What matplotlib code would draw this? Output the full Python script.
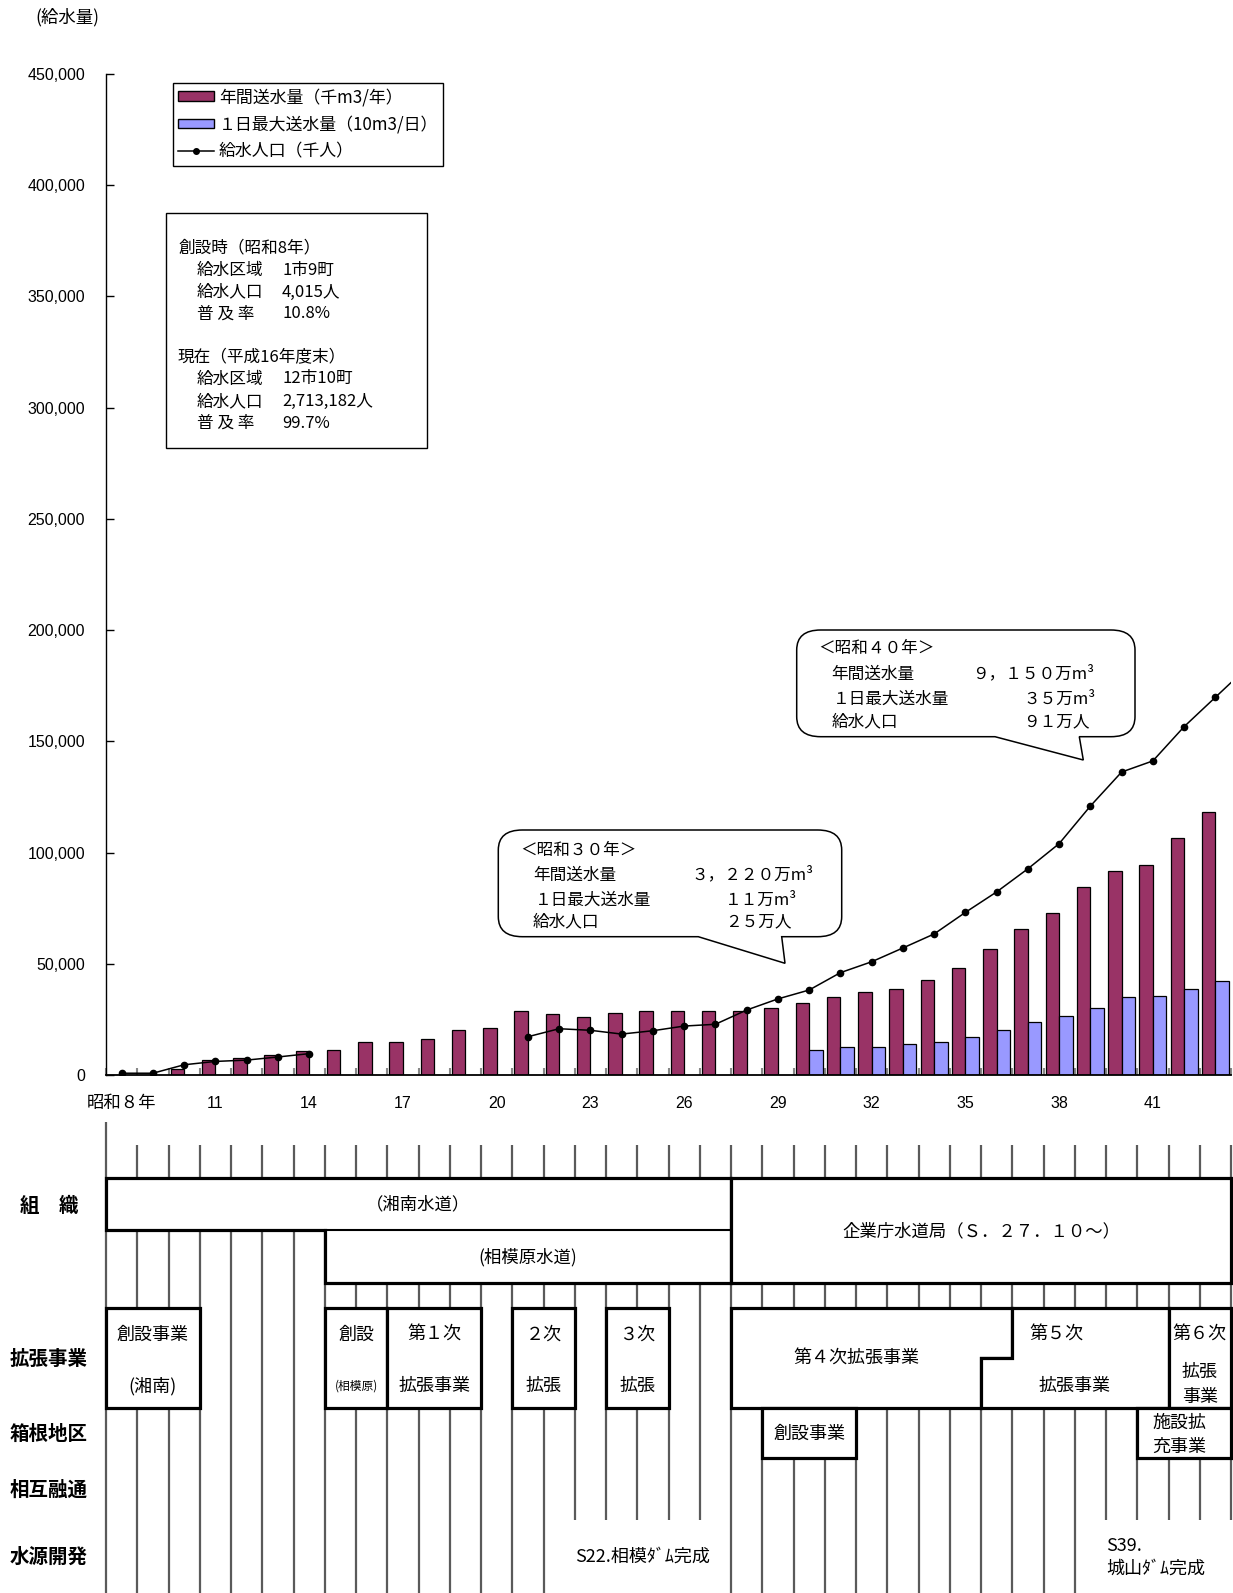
import numpy as np
import matplotlib
matplotlib.use("Agg")
import matplotlib.pyplot as plt
from matplotlib.patches import Rectangle, Polygon, Patch, PathPatch
from matplotlib.lines import Line2D
from matplotlib.path import Path
from matplotlib.transforms import Affine2D

plt.rcParams['font.family'] = ['Noto Sans CJK JP', 'DejaVu Sans']
NUM = ['Liberation Sans', 'Noto Sans CJK JP', 'DejaVu Sans']

# ── data (昭和8年 .. 昭和43年) ───────────────────────────────────────────────
years = np.arange(8, 44)
annual = [0, 0, 2850, 6600, 7800, 9100, 10600, 11200, 14800, 14800,
          16000, 20400, 21100, 28800, 27400, 26100, 28000, 28800, 28800, 28800,
          28800, 30300, 32200, 35200, 37200, 38500, 42700, 48200, 56800, 65800,
          73000, 84700, 91500, 94500, 106500, 118400]
daymax = [np.nan] * 22 + [11200, 12700, 12700, 13900, 14700, 16900, 20400,
                          24000, 26700, 30300, 35000, 35700, 38500, 42100]
pop_years = np.arange(8, 45)
population = [800, 800, 4600, 6100, 6700, 8100, 9600,
              np.nan, np.nan, np.nan, np.nan, np.nan, np.nan,
              17200, 20800, 20100, 18400, 19900, 22000, 22800, 29200, 34200,
              38200, 46000, 50900, 57100, 63400, 73100, 82300, 92700, 104000,
              120900, 136200, 141200, 156600, 169800, 183000]

label_years = np.arange(8, 42, 3)
label_text = ['昭和８年'] + [str(y) for y in label_years[1:]]

legend_labels = ['年間送水量（千m3/年）', '１日最大送水量（10m3/日）', '給水人口（千人）']

info_rows = [('創設時（昭和8年）', None), ('給水区域', '1市9町'), ('給水人口', '4,015人'),
             ('普 及 率', '10.8%'), (None, None), ('現在（平成16年度末）', None),
             ('給水区域', '12市10町'), ('給水人口', '2,713,182人'), ('普 及 率', '99.7%')]

callout30 = ['＜昭和３０年＞', ('年間送水量', '３，２２０万m³'), ('１日最大送水量', '１１万m³'), ('給水人口', '２５万人')]
callout40 = ['＜昭和４０年＞', ('年間送水量', '９，１５０万m³'), ('１日最大送水量', '３５万m³'), ('給水人口', '９１万人')]

# timeline (start year, end year exclusive, text lines)
expansion = [(8, 11, ['創設事業', '(湘南)']), (15, 17, ['創設', '(相模原)']),
             (17, 20, ['第１次', '拡張事業']), (21, 23, ['２次', '拡張']),
             (24, 26, ['３次', '拡張'])]
hakone = [(29, 32, ['創設事業']), (41, 44, ['施設拡', '充事業'])]
row_labels = ['組　織', '拡張事業', '箱根地区', '相互融通', '水源開発']
short_line_years = [23, 24, 25, 26, 27, 40, 41, 42, 43, 44]

# ── figure ───────────────────────────────────────────────────────────────────
W, H = 1233, 1593
fig = plt.figure(figsize=(W / 100, H / 100), dpi=100)
px = Affine2D().scale(1 / W, -1 / H).translate(0, 1) + fig.transFigure


def fx(p):
    return p / W


def fy(p):
    return 1 - p / H


ax = fig.add_axes([fx(106), fy(1075), fx(1231) - fx(106), fy(74) - fy(1075)])
xi = years - 8
ax.bar(xi - 0.215, annual, width=0.43, color='#993366', edgecolor='black', linewidth=0.9, zorder=2)
ax.bar(xi + 0.215, daymax, width=0.43, color='#9999FF', edgecolor='black', linewidth=0.9, zorder=2)
ax.plot(pop_years - 8, population, color='black', lw=1.1, marker='o', ms=4.5, zorder=3)

ax.set_xlim(-0.5, 35.5)
ax.set_ylim(0, 450000)
for s in ('top', 'right'):
    ax.spines[s].set_visible(False)
ax.spines['left'].set_linewidth(1.0)
ax.spines['bottom'].set_linewidth(1.3)

yt = np.arange(0, 450001, 50000)
ax.set_yticks(yt, labels=[f'{v:,}' for v in yt], fontsize=11.5, fontfamily=NUM)
ax.tick_params(axis='y', direction='in', length=5.5, width=1, pad=15)
ax.set_xticks(np.arange(-0.5, 36, 1), labels=[])
ax.tick_params(axis='x', which='major', direction='in', length=5, width=1.5, color='#888888')
ax.set_xticks(label_years - 8, labels=label_text, minor=True, fontsize=11.5, fontfamily=NUM)
ax.tick_params(axis='x', which='minor', length=0, pad=15)
ax.get_xticklabels(minor=True)[0].set_fontsize(12.5)

fig.text(fx(67), fy(17), '(給水量)', ha='center', va='center', fontsize=12.5)

handles = [Patch(facecolor='#993366', edgecolor='black', lw=1),
           Patch(facecolor='#9999FF', edgecolor='black', lw=1),
           Line2D([], [], color='black', lw=1.1, marker='o', ms=4)]
leg = ax.legend(handles, legend_labels, loc='upper left',
                bbox_to_anchor=(fx(173), fy(83)), bbox_transform=fig.transFigure,
                fancybox=False, edgecolor='black', framealpha=1, fontsize=12.2,
                handlelength=2.1, handleheight=0.5, handletextpad=0.3,
                labelspacing=0.55, borderpad=0.3, borderaxespad=0)
leg.get_frame().set_linewidth(1.0)

# info box
fig.add_artist(Rectangle((165.6, 213.3), 261, 234.7, transform=px, facecolor='white',
                         edgecolor='black', lw=1.0, zorder=5))
row_y = [248, 270.5, 292, 314, 336, 357.5, 379, 401.5, 423]
for (lab, val), y in zip(info_rows, row_y):
    if lab is None:
        continue
    xl = 178 if val is None else 197
    fig.text(fx(xl), fy(y), lab, ha='left', va='center', fontsize=12, zorder=6)
    if val:
        fig.text(fx(282), fy(y), val, ha='left', va='center', fontsize=12, zorder=6)


def bubble(l, t, r, b, b0, b1, tip, rx=24, ry=20):
    verts = [(l + rx, t), (r - rx, t), (r, t), (r, t + ry), (r, b - ry), (r, b), (r - rx, b),
             (b1, b), tip, (b0, b), (l + rx, b), (l, b), (l, b - ry), (l, t + ry), (l, t),
             (l + rx, t), (l + rx, t)]
    codes = [Path.MOVETO, Path.LINETO, Path.CURVE3, Path.CURVE3, Path.LINETO, Path.CURVE3,
             Path.CURVE3, Path.LINETO, Path.LINETO, Path.LINETO, Path.LINETO, Path.CURVE3,
             Path.CURVE3, Path.LINETO, Path.CURVE3, Path.CURVE3, Path.CLOSEPOLY]
    fig.add_artist(PathPatch(Path(verts, codes), transform=px, facecolor='white',
                             edgecolor='black', lw=1.1, zorder=5))


def callout(rows, box, x0, ys, xv):
    bubble(*box)
    fig.text(fx(x0), fy(ys[0]), rows[0], ha='left', va='center', fontsize=12, zorder=6)
    for (lab, val), y, dx, vx in zip(rows[1:], ys[1:], (13, 15, 13), xv):
        fig.text(fx(x0 + dx), fy(y), lab, ha='left', va='center', fontsize=12, zorder=6)
        fig.text(fx(vx), fy(y), val, ha='left', va='center', fontsize=12, zorder=6)


callout(callout30, (498.3, 830, 841.7, 936.7, 698.3, 781.7, (785, 963.3)),
        520, (850, 875, 900, 922), (691.7, 725, 725))
callout(callout40, (796.7, 630, 1135, 736.7, 995, 1079.3, (1083.3, 760)),
        818.3, (648.3, 674, 699, 721.5), (971.7, 1023.3, 1023.3))

# ── timeline ────────────────────────────────────────────────────────────────
tl = fig.add_axes([fx(106), 0, fx(1231) - fx(106), (H - 1100) / H])
tl.set_xlim(-0.5, 35.5)
tl.set_ylim(H, 1100)
tl.axis('off')


def bx(year):
    return year - 8 - 0.5


for k in range(37):
    yb = 1520 if (k + 8) in short_line_years else H
    yt0 = 1122 if k == 0 else 1145
    tl.plot([k - 0.5, k - 0.5], [yt0, yb], color='#5a5a5a', lw=1.6, zorder=1,
            clip_on=False, solid_capstyle='butt')

BOX = dict(facecolor='white', edgecolor='black', lw=2.3, zorder=3, clip_on=False,
           joinstyle='miter')

# organisation row
tl.add_patch(Polygon([(bx(8), 1178), (bx(28), 1178), (bx(28), 1282.7), (bx(15), 1282.7),
                      (bx(15), 1230), (bx(8), 1230)], closed=True, **BOX))
tl.plot([bx(15), bx(28)], [1230, 1230], color='black', lw=1.5, zorder=4)
tl.add_patch(Polygon([(bx(28), 1178), (bx(44), 1178), (bx(44), 1282.7), (bx(28), 1282.7)],
                     closed=True, **BOX))
tl.text((bx(8) + bx(28)) / 2, 1204.6, '（湘南水道）', ha='center', va='center', fontsize=12.5, zorder=5)
tl.text((bx(15) + bx(28)) / 2, 1257.5, '(相模原水道)', ha='center', va='center', fontsize=12.5, zorder=5)
tl.text((bx(28) + bx(44)) / 2, 1231, '企業庁水道局（Ｓ．２７．１０～）', ha='center', va='center',
        fontsize=12.5, zorder=5)

# expansion row
for s, e, lines in expansion:
    tl.add_patch(Polygon([(bx(s), 1308), (bx(e), 1308), (bx(e), 1408), (bx(s), 1408)],
                         closed=True, **BOX))
    cx = (bx(s) + bx(e)) / 2
    tl.text(cx, 1335, lines[0], ha='center', va='center', fontsize=13, zorder=5)
    small = lines[1] == '(相模原)'
    tl.text(cx, 1386, lines[1], ha='center', va='center', fontsize=8.5 if small else 13, zorder=5)

tl.add_patch(Polygon([(bx(28), 1308), (bx(37), 1308), (bx(37), 1358.3), (bx(36), 1358.3),
                      (bx(36), 1408), (bx(28), 1408)], closed=True, **BOX))
tl.text((bx(28) + bx(36)) / 2, 1359, '第４次拡張事業', ha='center', va='center', fontsize=13, zorder=5)
tl.add_patch(Polygon([(bx(37), 1308), (bx(42), 1308), (bx(42), 1408), (bx(36), 1408),
                      (bx(36), 1358.3), (bx(37), 1358.3)], closed=True, **BOX))
tl.text(bx(38) + 0.4, 1335, '第５次', ha='center', va='center', fontsize=13, zorder=5)
tl.text((bx(36) + bx(42)) / 2, 1386, '拡張事業', ha='center', va='center', fontsize=13, zorder=5)
tl.add_patch(Polygon([(bx(42), 1308), (bx(44), 1308), (bx(44), 1408), (bx(42), 1408)],
                     closed=True, **BOX))
cx6 = (bx(42) + bx(44)) / 2
tl.text(cx6, 1335, '第６次', ha='center', va='center', fontsize=13, zorder=5)
tl.text(cx6, 1372, '拡張', ha='center', va='center', fontsize=13, zorder=5)
tl.text(cx6, 1396.6, '事業', ha='center', va='center', fontsize=13, zorder=5)

# hakone row
for s, e, lines in hakone:
    tl.add_patch(Polygon([(bx(s), 1408), (bx(e), 1408), (bx(e), 1458.3), (bx(s), 1458.3)],
                         closed=True, **BOX))
    cx = (bx(s) + bx(e)) / 2
    if len(lines) == 1:
        tl.text(cx, 1434, lines[0], ha='center', va='center', fontsize=13, zorder=5)
    else:
        tl.text(cx - 0.15, 1423, lines[0], ha='center', va='center', fontsize=13, zorder=5)
        tl.text(cx - 0.15, 1446.4, lines[1], ha='center', va='center', fontsize=13, zorder=5)

# water source notes
tl.text(bx(23), 1557, 'S22.相模ﾀﾞﾑ完成', ha='left', va='center', fontsize=13, zorder=5)
tl.text(bx(40), 1546, 'S39.', ha='left', va='center', fontsize=13, zorder=5)
tl.text(bx(40), 1569, '城山ﾀﾞﾑ完成', ha='left', va='center', fontsize=13, zorder=5)

for lab, y in zip(row_labels, [1206.6, 1359, 1434, 1490, 1557]):
    fig.text(fx(49), fy(y), lab, ha='center', va='center', fontsize=14, fontweight='bold')

fig.savefig('out.png', dpi=100)
